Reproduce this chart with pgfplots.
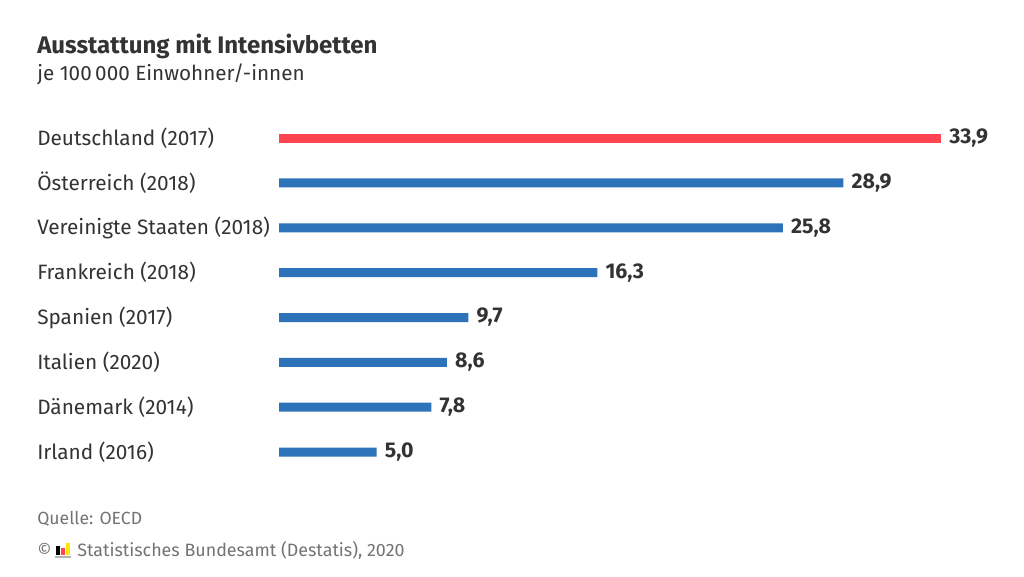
\documentclass[border=0pt]{standalone}
\usepackage{pgfplots}
\pgfplotsset{compat=1.18}
\usepackage{fontspec}
\setmainfont{Fira Sans}
\definecolor{barred}{HTML}{FF4550}
\definecolor{barblue}{HTML}{2D73B9}
\definecolor{txt}{HTML}{333333}
\definecolor{foot}{HTML}{737373}
\begin{document}
\begin{tikzpicture}
% page frame, 1 px = 0.75pt, y downward
\begin{scope}[x=0.75pt,y=-0.75pt]
  \path[fill=white,use as bounding box] (0,0) rectangle (1024,576);
  \node[anchor=base west,inner sep=0,text=txt] at (37,53)
    {\fontsize{18}{20}\selectfont\bfseries Ausstattung mit Intensivbetten};
  \node[anchor=base west,inner sep=0,text=txt] at (37,80)
    {\fontsize{15.5}{18}\selectfont je 100\,000 Einwohner/-innen};
  \node[anchor=base west,inner sep=0,text=foot] at (37,524)
    {\fontsize{13.2}{15}\selectfont Quelle: OECD};
  \node[anchor=base west,inner sep=0,text=foot] at (37,556)
    {\fontsize{13.2}{15}\selectfont ©};
  \node[anchor=base west,inner sep=0,text=foot] at (77,556)
    {\fontsize{13.4}{15}\selectfont Statistisches Bundesamt (Destatis), 2020};
  % logo
  \fill[black] (56,546) rectangle (59.5,555);
  \fill[barred] (61,548) rectangle (64.5,555);
  \fill[yellow!90!orange] (66,543) rectangle (69.5,555);
  \fill[gray!60] (55,555.5) rectangle (71,558);
\end{scope}
\begin{axis}[
  at={(209.25pt,-86.7pt)}, anchor=north west,
  scale only axis, width=496.5pt, height=269.2pt,
  xbar, bar width=6.75pt, bar shift=0pt,
  xmin=0, xmax=33.9, ymin=-0.5, ymax=7.5, y dir=reverse,
  axis x line=none, axis y line*=left,
  y axis line style={draw=none}, major tick length=0pt,
  ytick={0,...,7},
  yticklabels={Deutschland (2017),Österreich (2018),Vereinigte Staaten (2018),Frankreich (2018),Spanien (2017),Italien (2020),Dänemark (2014),Irland (2016)},
  yticklabel style={anchor=west, inner sep=0pt, xshift=-181.5pt, text=txt, font=\fontsize{15.6}{18}\selectfont},
  nodes near coords,
  nodes near coords style={anchor=west, inner sep=0pt, xshift=6pt, text=txt, font=\fontsize{16}{18}\selectfont\bfseries},
  /pgf/number format/.cd, use comma, fixed, fixed zerofill, precision=1, assume math mode=true,
  /pgfplots/.cd, clip=false,
]
\addplot[draw=none, fill=barred] coordinates {(33.9,0)};
\addplot[draw=none, fill=barblue] coordinates {(28.9,1) (25.8,2) (16.3,3) (9.7,4) (8.6,5) (7.8,6) (5.0,7)};
\end{axis}
\end{tikzpicture}
\end{document}
